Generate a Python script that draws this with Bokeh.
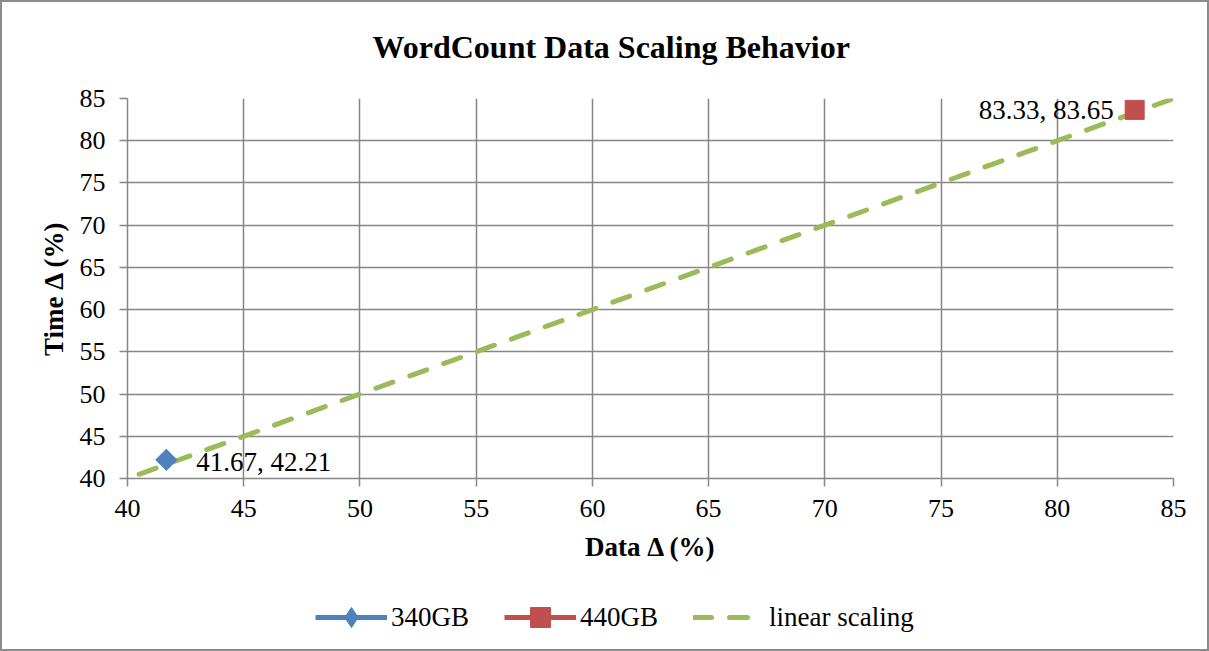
import math
from bokeh.plotting import figure
from bokeh.layouts import column
from bokeh.models import (ColumnDataSource, Legend, LegendItem, SingleIntervalTicker,
                          Range1d, Title, LabelSet)
from bokeh.embed import file_html
from bokeh.resources import INLINE

# ---- data ----
series_names = ["340GB", "440GB"]
data_x = [41.67, 83.33]
time_y = [42.21, 83.65]
point_labels = ["41.67, 42.21", "83.33, 83.65"]
linear_name = "linear scaling"
linear_x = [40.5, 85]
linear_y = [40.5, 85]
tick_interval = 5

BLUE = "#4F81BD"
RED = "#C0504D"
GREEN = "#9BBB59"
GRID = "#868686"
FONT = "Liberation Serif"

p = figure(frame_width=1046, frame_height=380, output_backend="svg", toolbar_location=None,
           x_range=Range1d(40, 85), y_range=Range1d(40, 85),
           min_border_left=125, min_border_right=34, min_border_top=96, min_border_bottom=94)
p.outline_line_color = None
p.background_fill_color = "white"
p.border_fill_color = "white"

p.title = Title(text="WordCount Data Scaling Behavior", text_font=FONT, text_font_size="32px",
                text_font_style="bold", align="left", offset=245, standoff=10, text_color="black")
# spacer between frame and title
p.add_layout(Title(text=" ", text_font=FONT, text_font_size="25px", standoff=0), "above")

for ax in (p.xaxis[0], p.yaxis[0]):
    ax.ticker = SingleIntervalTicker(interval=tick_interval)
    ax.major_label_text_font = FONT
    ax.major_label_text_font_size = "26px"
    ax.major_label_text_color = "black"
    ax.axis_line_color = GRID
    ax.axis_line_width = 1.5
    ax.major_tick_line_color = GRID
    ax.major_tick_line_width = 1.5
    ax.major_tick_out = 8
    ax.major_tick_in = 0
    ax.minor_tick_line_color = None
    ax.axis_label_text_font = FONT
    ax.axis_label_text_font_size = "27px"
    ax.axis_label_text_font_style = "bold"
    ax.axis_label_text_color = "black"

p.xaxis[0].axis_label = "Data Δ (%)"
p.yaxis[0].axis_label = "Time Δ (%)"
p.xaxis[0].major_label_standoff = 13
p.yaxis[0].major_label_standoff = 14
p.xaxis[0].axis_label_standoff = 12
p.yaxis[0].axis_label_standoff = 8

p.grid.grid_line_color = GRID
p.grid.grid_line_width = 1.5

# linear scaling line
p.line(linear_x, linear_y, line_color=GREEN, line_width=5, line_dash="18 18", line_cap="round")

# series
colors = [BLUE, RED]
sizes = [15, 19]
angles = [math.pi / 4, 0]
for i, name in enumerate(series_names):
    src = ColumnDataSource(dict(x=[data_x[i]], y=[time_y[i]]))
    p.line("x", "y", source=src, line_color=colors[i], line_width=4)
    p.scatter("x", "y", source=src, marker="square", size=sizes[i], angle=angles[i],
              fill_color=colors[i], line_color=colors[i])

# data labels
lab_src1 = ColumnDataSource(dict(x=[data_x[0]], y=[time_y[0]], t=[point_labels[0]]))
lab_src2 = ColumnDataSource(dict(x=[data_x[1]], y=[time_y[1]], t=[point_labels[1]]))
p.add_layout(LabelSet(x="x", y="y", text="t", source=lab_src1, x_offset=30, y_offset=-2,
                      text_font=FONT, text_font_size="27px", text_baseline="middle",
                      text_align="left", text_color="black"))
p.add_layout(LabelSet(x="x", y="y", text="t", source=lab_src2, x_offset=-21, y_offset=0,
                      text_font=FONT, text_font_size="27px", text_baseline="middle",
                      text_align="right", text_color="black"))

# ---- legend strip (separate figure so the legend is not clipped) ----
# its renderers hold the same data, which lies outside this strip's 0..1 ranges
lg = figure(width=1205, height=77, output_backend="svg", toolbar_location=None,
            x_range=Range1d(0, 1), y_range=Range1d(0, 1), x_axis_type=None, y_axis_type=None,
            min_border_left=0, min_border_right=0, min_border_top=0, min_border_bottom=0)
lg.outline_line_color = None
lg.grid.visible = False
lg.background_fill_color = "white"
lg.border_fill_color = "white"

legend_markers = ["diamond", "square"]
items = []
for i, name in enumerate(series_names):
    src = ColumnDataSource(dict(x=[data_x[i]], y=[time_y[i]]))
    ln = lg.line("x", "y", source=src, line_color=colors[i], line_width=5)
    sc = lg.scatter("x", "y", source=src, marker=legend_markers[i], size=20,
                    fill_color=colors[i], line_color=colors[i])
    items.append(LegendItem(label=name, renderers=[ln, sc]))
lin_lg = lg.line(linear_x, linear_y, line_color=GREEN, line_width=5, line_dash="18 18",
                 line_cap="round")
items.append(LegendItem(label=linear_name, renderers=[lin_lg]))

legend = Legend(items=items, orientation="horizontal", location=(188, 7),
                label_text_font=FONT, label_text_font_size="27px", label_text_color="black",
                glyph_width=72, glyph_height=50, spacing=35, label_standoff=4, padding=4,
                border_line_color=None, background_fill_alpha=0, margin=0)
lg.add_layout(legend, "center")

root = column(p, lg, spacing=0, styles={"border": "2px solid #8c8c8c"})
open("out.html", "w").write(file_html(root, INLINE))
